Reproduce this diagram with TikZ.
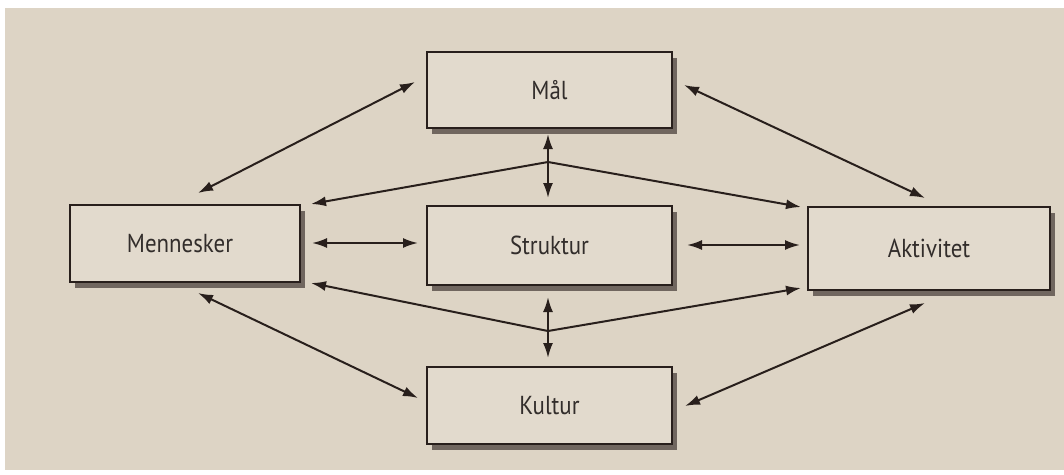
\documentclass[tikz,border=0pt]{standalone}
\usepackage{fontspec}
\setmainfont[FakeStretch=0.88]{PT Sans}
\usetikzlibrary{arrows.meta,shadows}
\definecolor{paper}{RGB}{221,212,197}
\definecolor{boxfill}{RGB}{226,218,205}
\definecolor{ink}{RGB}{40,31,28}
\definecolor{txt}{RGB}{50,45,43}
\definecolor{shade}{RGB}{112,102,95}
\tikzset{
  box/.style={draw=ink,line width=1.7pt,fill=boxfill,font=\fontsize{26}{30}\selectfont,text=txt,
    inner sep=0pt,drop shadow={shadow xshift=5pt,shadow yshift=-6pt,fill=shade,opacity=1}},
  tip/.tip={Latex[length=15pt,width=10pt]},
  link/.style={draw=ink,line width=2pt,tip-tip},
  oneway/.style={draw=ink,line width=2pt,-tip},
}
\begin{document}
\begin{tikzpicture}[x=1pt,y=-1pt]
\useasboundingbox (0,0) rectangle (1064,474);
\fill[white] (0,0) rectangle (1064,474);
\fill[paper] (5,8) rectangle (1064,470);
\node[box,minimum width=245pt,minimum height=76pt] (mal) at (549.5,90) {Mål};
\node[box,minimum width=230pt,minimum height=77pt] (men) at (185,243.5) {\hspace*{-10pt}Mennesker};
\node[box,minimum width=245pt,minimum height=79pt] (str) at (549.5,245.5) {Struktur};
\node[box,minimum width=242pt,minimum height=83pt] (akt) at (929,248.5) {Aktivitet};
\node[box,minimum width=245pt,minimum height=77pt] (kul) at (549.5,405.5) {Kultur};
% endpoints
\coordinate (mmA) at (415,82);  \coordinate (mmB) at (198,193);
\coordinate (maA) at (684,85);  \coordinate (maB) at (925,198);
\coordinate (mkA) at (198,293); \coordinate (mkB) at (418,398);
\coordinate (akA) at (925,303); \coordinate (akB) at (685,406);
\coordinate (msA) at (312,243); \coordinate (msB) at (418,243);
\coordinate (saA) at (687,245); \coordinate (saB) at (800,245);
\coordinate (vtA) at (548,134); \coordinate (vtB) at (548,198);
\coordinate (vbA) at (548,297); \coordinate (vbB) at (548,358);
\coordinate (ft) at (548,162);  \coordinate (fb) at (548,331);
\coordinate (ftL) at (311,204); \coordinate (ftR) at (801,207);
\coordinate (fbL) at (311,283); \coordinate (fbR) at (801,288);
\draw[link] (mmA) -- (mmB);
\draw[link] (maA) -- (maB);
\draw[link] (mkA) -- (mkB);
\draw[link] (akA) -- (akB);
\draw[link] (msA) -- (msB);
\draw[link] (saA) -- (saB);
\draw[link] (vtA) -- (vtB);
\draw[link] (vbA) -- (vbB);
\draw[oneway] (ft) -- (ftL);
\draw[oneway] (ft) -- (ftR);
\draw[oneway] (fb) -- (fbL);
\draw[oneway] (fb) -- (fbR);
\end{tikzpicture}
\end{document}
